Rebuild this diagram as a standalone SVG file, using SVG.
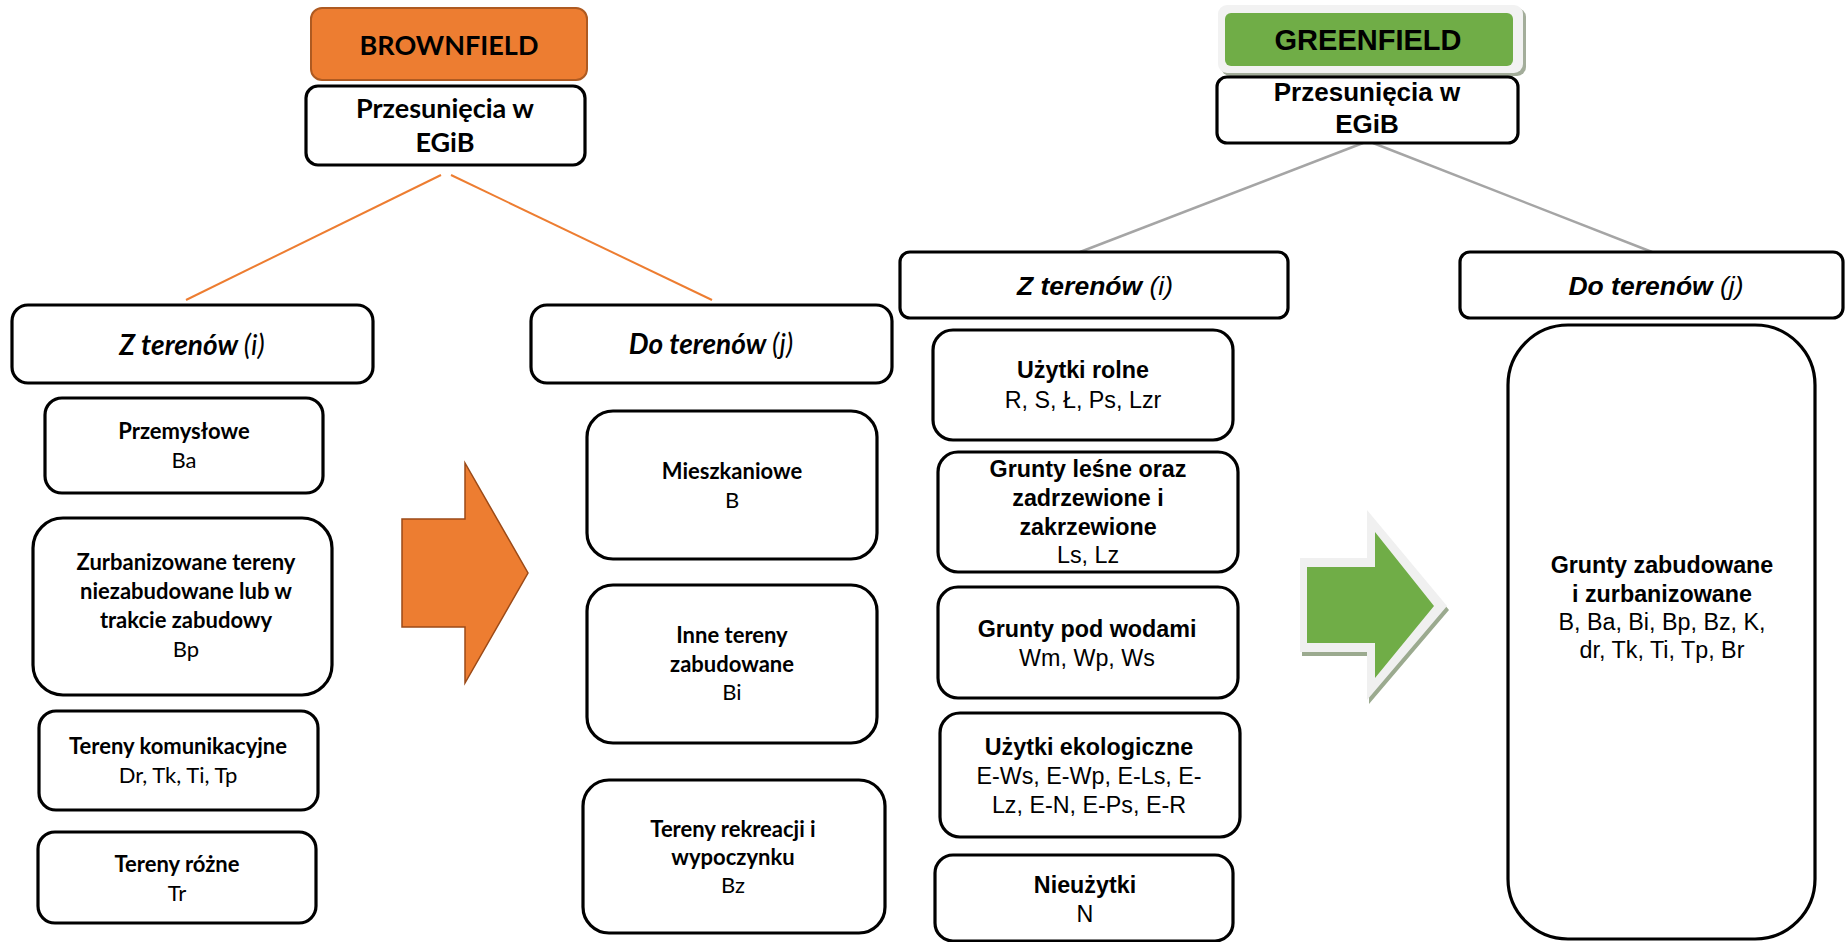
<svg xmlns="http://www.w3.org/2000/svg" width="1845" height="942" viewBox="0 0 1845 942">
<style>
.box{fill:#fff;stroke:#000;stroke-width:3.2}
.c{font-family:Lato,"Open Sans",sans-serif;fill:#000;text-anchor:middle}
.a{font-family:"Liberation Sans",Arial,sans-serif;fill:#000;text-anchor:middle}
.b{font-weight:bold}
.lt{font-size:22px}
.at{font-size:23.3px}
</style>
<rect width="1845" height="942" fill="#fff"/>
<g id="connectors">
<line x1="441" y1="175" x2="186" y2="300" stroke="#ED7D31" stroke-width="2"/>
<line x1="451" y1="175" x2="712" y2="300" stroke="#ED7D31" stroke-width="2"/>
<line x1="1363" y1="143" x2="1080" y2="252" stroke="#A5A5A5" stroke-width="2.5"/>
<line x1="1373" y1="143" x2="1652" y2="252" stroke="#A5A5A5" stroke-width="2.5"/>
</g>
<g id="brownfield">
<rect x="311" y="8" width="276" height="72" rx="11" fill="#ED7D31" stroke="#AE5A21" stroke-width="2"/>
<text class="c b" x="449" y="55" font-size="27">BROWNFIELD</text>
</g>
<g id="bf-egib">
<rect class="box" x="306" y="86" width="279" height="79" rx="12"/>
<text class="c b" x="445" y="118" font-size="27">Przesunięcia w</text>
<text class="c b" x="445" y="152" font-size="27">EGiB</text>
</g>
<g id="bf-z">
<rect class="box" x="12" y="305" width="361" height="78" rx="16"/>
<text class="c" x="192" y="355" font-size="28"><tspan font-weight="bold" font-style="italic">Z terenów </tspan><tspan font-style="italic">(i)</tspan></text>
</g>
<g id="bf-do">
<rect class="box" x="531" y="305" width="361" height="78" rx="16"/>
<text class="c" x="711" y="354" font-size="28"><tspan font-weight="bold" font-style="italic">Do terenów </tspan><tspan font-style="italic">(j)</tspan></text>
</g>
<g id="bf-przem">
<rect class="box" x="45" y="398" width="278" height="95" rx="17"/>
<text class="c b lt" x="184" y="439">Przemysłowe</text>
<text class="c lt" x="184" y="468">Ba</text>
</g>
<g id="bf-zurb">
<rect class="box" x="33" y="518" width="299" height="177" rx="30"/>
<text class="c b lt" x="186" y="570">Zurbanizowane tereny</text>
<text class="c b lt" x="186" y="599">niezabudowane lub w</text>
<text class="c b lt" x="186" y="628">trakcie zabudowy</text>
<text class="c lt" x="186" y="657">Bp</text>
</g>
<g id="bf-kom">
<rect class="box" x="39" y="711" width="279" height="99" rx="17"/>
<text class="c b lt" x="178" y="754">Tereny komunikacyjne</text>
<text class="c lt" x="178" y="783">Dr, Tk, Ti, Tp</text>
</g>
<g id="bf-rozne">
<rect class="box" x="38" y="832" width="278" height="91" rx="17"/>
<text class="c b lt" x="177" y="872">Tereny różne</text>
<text class="c lt" x="177" y="901">Tr</text>
</g>
<g id="bf-arrow">
<polygon points="402,519 465,519 465,463 528,573 465,683 465,627 402,627" fill="#ED7D31" stroke="#9C4A17" stroke-width="1.5"/>
</g>
<g id="bf-mieszk">
<rect class="box" x="587" y="411" width="290" height="148" rx="26"/>
<text class="c b lt" x="732" y="479">Mieszkaniowe</text>
<text class="c lt" x="732" y="508">B</text>
</g>
<g id="bf-inne">
<rect class="box" x="587" y="585" width="290" height="158" rx="26"/>
<text class="c b lt" x="732" y="643">Inne tereny</text>
<text class="c b lt" x="732" y="672">zabudowane</text>
<text class="c lt" x="732" y="700">Bi</text>
</g>
<g id="bf-rekr">
<rect class="box" x="583" y="780" width="302" height="153" rx="26"/>
<text class="c b lt" x="733" y="837">Tereny rekreacji i</text>
<text class="c b lt" x="733" y="865">wypoczynku</text>
<text class="c lt" x="733" y="893">Bz</text>
</g>
<g id="greenfield">
<rect x="1221" y="8" width="305" height="68" rx="9" fill="#A3AD9A"/>
<rect x="1218" y="5" width="305" height="68" rx="9" fill="#F2F2F2"/>
<rect x="1225" y="13" width="288" height="53" rx="6" fill="#70AD47"/>
<text class="a b" x="1368" y="50" font-size="29">GREENFIELD</text>
</g>
<g id="gf-egib">
<rect class="box" x="1217" y="77" width="301" height="66" rx="10"/>
<text class="a b" x="1367" y="101" font-size="26">Przesunięcia w</text>
<text class="a b" x="1367" y="133" font-size="26">EGiB</text>
</g>
<g id="gf-z">
<rect class="box" x="900" y="252" width="388" height="66" rx="10"/>
<text class="a" x="1095" y="295" font-size="26.5"><tspan font-weight="bold" font-style="italic">Z terenów </tspan><tspan font-style="italic">(i)</tspan></text>
</g>
<g id="gf-do">
<rect class="box" x="1460" y="252" width="383" height="66" rx="10"/>
<text class="a" x="1656" y="295" font-size="26.5"><tspan font-weight="bold" font-style="italic">Do terenów </tspan><tspan font-style="italic">(j)</tspan></text>
</g>
<g id="gf-rolne">
<rect class="box" x="933" y="330" width="300" height="110" rx="20"/>
<text class="a b at" x="1083" y="378">Użytki rolne</text>
<text class="a at" x="1083" y="408">R, S, Ł, Ps, Lzr</text>
</g>
<g id="gf-lesne">
<rect class="box" x="938" y="452" width="300" height="120" rx="20"/>
<text class="a b at" x="1088" y="477">Grunty leśne oraz</text>
<text class="a b at" x="1088" y="506">zadrzewione i</text>
<text class="a b at" x="1088" y="535">zakrzewione</text>
<text class="a at" x="1088" y="563">Ls, Lz</text>
</g>
<g id="gf-wody">
<rect class="box" x="938" y="587" width="300" height="111" rx="20"/>
<text class="a b at" x="1087" y="637">Grunty pod wodami</text>
<text class="a at" x="1087" y="666">Wm, Wp, Ws</text>
</g>
<g id="gf-eko">
<rect class="box" x="940" y="713" width="300" height="124" rx="20"/>
<text class="a b at" x="1089" y="755">Użytki ekologiczne</text>
<text class="a at" x="1089" y="784">E-Ws, E-Wp, E-Ls, E-</text>
<text class="a at" x="1089" y="813">Lz, E-N, E-Ps, E-R</text>
</g>
<g id="gf-nieuz">
<rect class="box" x="935" y="855" width="298" height="86" rx="18"/>
<text class="a b at" x="1085" y="893">Nieużytki</text>
<text class="a at" x="1085" y="922">N</text>
</g>
<g id="gf-arrow">
<polygon points="1302,562 1369,562 1369,514 1449,610 1369,704 1369,656 1302,656" fill="#9BAA8F"/>
<polygon points="1300,558 1367,558 1367,510 1447,606 1367,700 1367,652 1300,652" fill="#F0F0F0"/>
<polygon points="1307,567 1375,567 1375,532 1434,606 1375,678 1375,643 1307,643" fill="#70AD47"/>
</g>
<g id="gf-zabud">
<rect class="box" x="1508" y="325" width="307" height="614" rx="60"/>
<text class="a b at" x="1662" y="573">Grunty zabudowane</text>
<text class="a b at" x="1662" y="602">i zurbanizowane</text>
<text class="a at" x="1662" y="630">B, Ba, Bi, Bp, Bz, K,</text>
<text class="a at" x="1662" y="658">dr, Tk, Ti, Tp, Br</text>
</g>
</svg>
